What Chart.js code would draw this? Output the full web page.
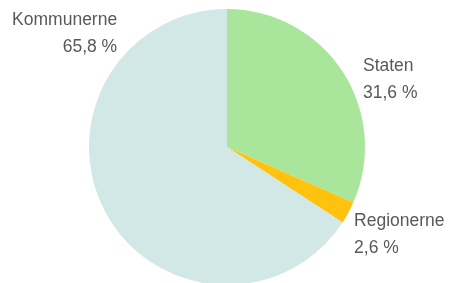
<!DOCTYPE html>
<html>
<head>
<meta charset="utf-8">
<script src="https://cdn.jsdelivr.net/npm/chart.js@4/dist/chart.umd.min.js"></script>
<style>
  html, body { margin: 0; padding: 0; background: #fff; overflow: hidden; }
  #wrap { width: 449px; height: 283px; overflow: hidden; }
  #box { width: 449px; height: 285px; }
</style>
</head>
<body>
<div id="wrap"><div id="box"><canvas id="pie"></canvas></div></div>
<script>
const categories = ["Staten", "Regionerne", "Kommunerne"];
const shares = [31.6, 2.6, 65.8];
const sliceColors = ["#a9e59b", "#ffc20e", "#d1e8e6"];

// where each label sits: angle clockwise from top (deg), distance in radii, text side
const labelAngle = [63.1, 124.1, 316.3];
const labelDist = [1.105, 1.112, 1.152];
const labelAlign = ["left", "left", "right"];

const fmt = (v) => v.toFixed(1).replace(".", ",") + " %";

const outsideLabels = {
  id: "outsideLabels",
  afterDraw(chart) {
    const ctx = chart.ctx;
    const arcs = chart.getDatasetMeta(0).data;
    ctx.save();
    ctx.font = '17.5px "Liberation Sans", Arial, sans-serif';
    ctx.fillStyle = "#595959";
    ctx.textBaseline = "alphabetic";
    arcs.forEach((arc, i) => {
      const a = (labelAngle[i] * Math.PI) / 180;
      const r = arc.outerRadius * labelDist[i];
      const x = arc.x + r * Math.sin(a);
      const y = arc.y - r * Math.cos(a);
      ctx.textAlign = labelAlign[i];
      ctx.fillText(categories[i], x, y - 7);
      ctx.fillText(fmt(shares[i]), x, y + 20);
    });
    ctx.restore();
  },
};

new Chart(document.getElementById("pie"), {
  type: "pie",
  data: {
    labels: categories,
    datasets: [
      {
        data: shares,
        backgroundColor: sliceColors,
        borderWidth: 0,
      },
    ],
  },
  options: {
    responsive: true,
    maintainAspectRatio: false,
    animation: false,
    layout: { padding: { top: 9, left: 5, right: 0, bottom: 0 } },
    plugins: {
      legend: { display: false },
      tooltip: { enabled: false },
    },
  },
  plugins: [outsideLabels],
});
</script>
</body>
</html>
